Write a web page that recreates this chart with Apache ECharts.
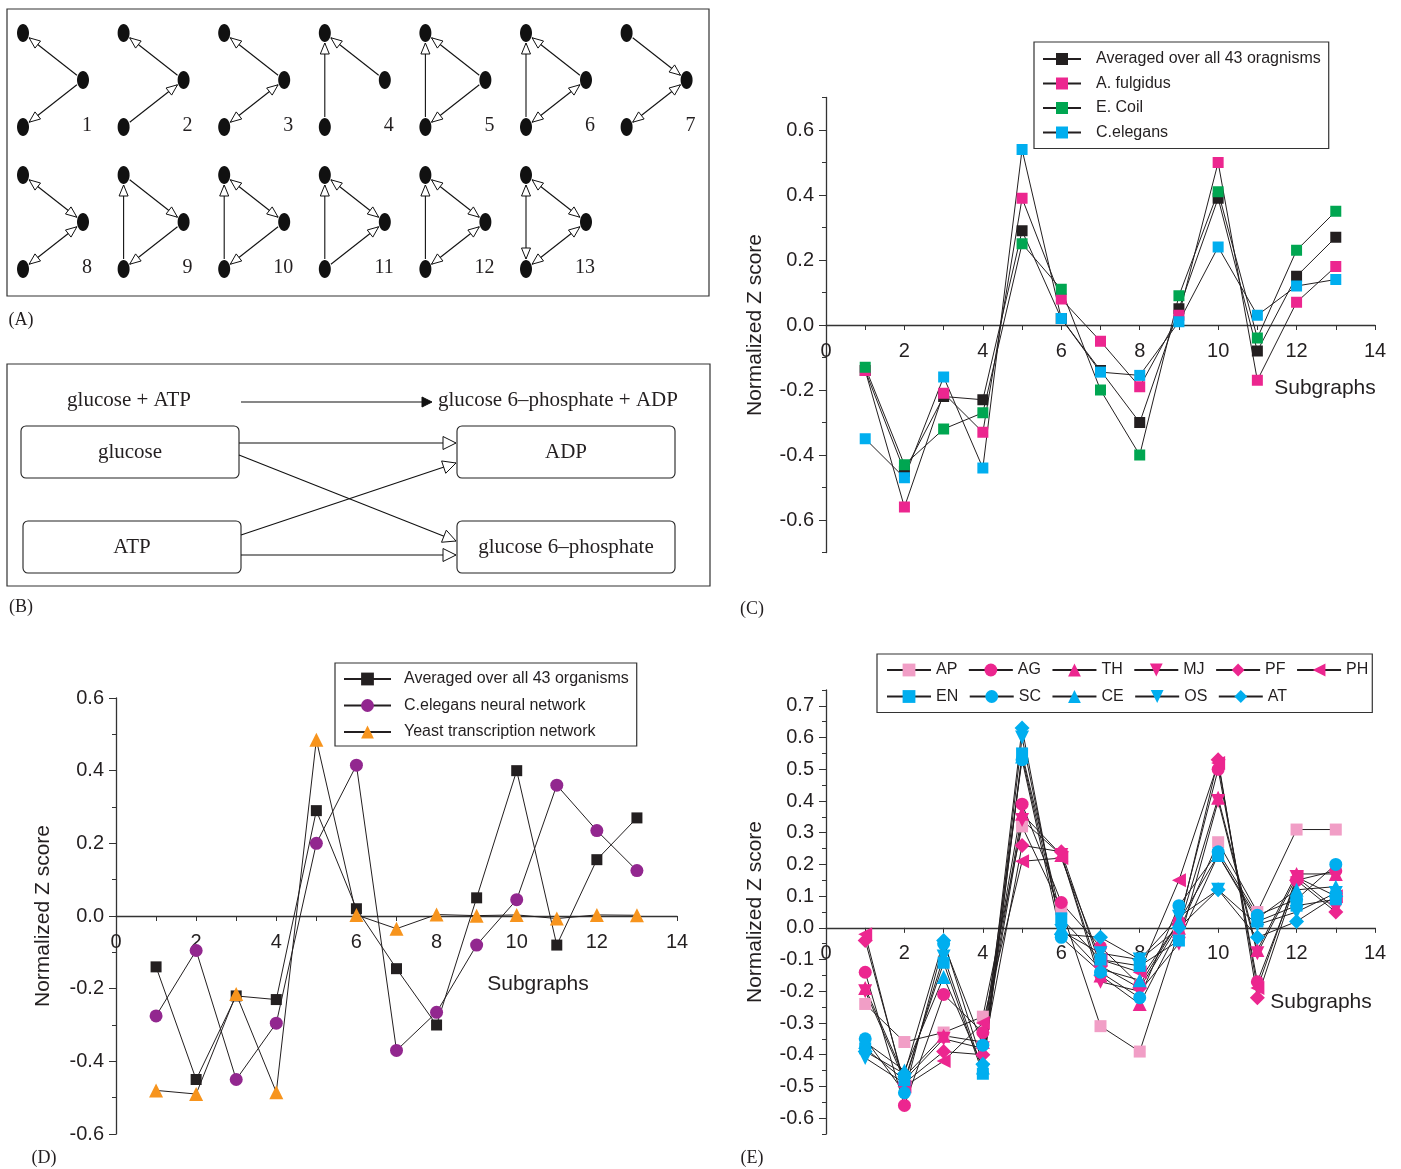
<!DOCTYPE html>
<html>
<head>
<meta charset="utf-8">
<script src="https://cdn.jsdelivr.net/npm/echarts@6/dist/echarts.min.js"></script>
<style>
  html, body { margin: 0; background: #fff; }
  #fig { width: 1401px; height: 1169px; }
</style>
</head>
<body>
<div id="fig"></div>
<script>
// subgraph ids on the x axis
const subgraphs = [1, 2, 3, 4, 5, 6, 7, 8, 9, 10, 11, 12, 13]
const xTickLabels = [0, 2, 4, 6, 8, 10, 12, 14]

// panel C
const cTicks = [-0.6, -0.4, -0.2, 0.0, 0.2, 0.4, 0.6]
const cAveraged = [-0.14, -0.45, -0.22, -0.23, 0.29, 0.02, -0.14, -0.30, 0.05, 0.39, -0.08, 0.15, 0.27]
const cFulgidus = [-0.14, -0.56, -0.21, -0.33, 0.39, 0.08, -0.05, -0.19, 0.03, 0.50, -0.17, 0.07, 0.18]
const cEColi = [-0.13, -0.43, -0.32, -0.27, 0.25, 0.11, -0.20, -0.40, 0.09, 0.41, -0.04, 0.23, 0.35]
const cElegans = [-0.35, -0.47, -0.16, -0.44, 0.54, 0.02, -0.145, -0.155, 0.01, 0.24, 0.03, 0.12, 0.14]

// panel D
const dTicks = [-0.6, -0.4, -0.2, 0.0, 0.2, 0.4, 0.6]
const dAveraged = [-0.14, -0.45, -0.22, -0.23, 0.29, 0.02, -0.145, -0.30, 0.05, 0.40, -0.08, 0.155, 0.27]
const dNeural = [-0.275, -0.095, -0.45, -0.295, 0.20, 0.415, -0.37, -0.265, -0.08, 0.045, 0.36, 0.235, 0.125]
const dYeast = [-0.48, -0.49, -0.215, -0.485, 0.485, 0.003, -0.035, 0.004, 0.001, 0.003, -0.007, 0.003, 0.002]

// panel E
const eTicks = [-0.6, -0.5, -0.4, -0.3, -0.2, -0.1, 0.0, 0.1, 0.2, 0.3, 0.4, 0.5, 0.6, 0.7]
const eAP = [-0.24, -0.36, -0.33, -0.28, 0.32, 0.06, -0.31, -0.39, -0.01, 0.27, 0.05, 0.31, 0.31]
const eAG = [-0.14, -0.56, -0.21, -0.33, 0.39, 0.08, -0.06, -0.18, 0.02, 0.50, -0.17, 0.15, 0.18]
const eTH = [-0.19, -0.47, -0.34, -0.36, 0.36, 0.23, -0.15, -0.24, 0.00, 0.41, -0.07, 0.17, 0.17]
const eMJ = [-0.20, -0.48, -0.35, -0.38, 0.34, 0.23, -0.17, -0.20, -0.05, 0.40, -0.08, 0.16, 0.06]
const ePF = [-0.04, -0.49, -0.39, -0.40, 0.26, 0.24, -0.12, -0.19, 0.01, 0.53, -0.22, 0.15, 0.05]
const ePH = [-0.02, -0.50, -0.42, -0.30, 0.21, 0.22, -0.10, -0.14, 0.15, 0.52, -0.19, 0.16, 0.10]
const eEN = [-0.38, -0.48, -0.11, -0.46, 0.55, 0.03, -0.10, -0.12, -0.04, 0.23, 0.02, 0.07, 0.09]
const eSC = [-0.35, -0.52, -0.05, -0.37, 0.53, -0.03, -0.14, -0.22, 0.07, 0.24, 0.04, 0.09, 0.20]
const eCE = [-0.36, -0.45, -0.155, -0.44, 0.54, 0.00, -0.13, -0.165, 0.02, 0.23, 0.03, 0.12, 0.13]
const eOS = [-0.41, -0.49, -0.09, -0.45, 0.60, -0.01, -0.08, -0.10, 0.035, 0.12, 0.01, 0.05, 0.11]
const eAT = [-0.39, -0.46, -0.04, -0.43, 0.63, -0.02, -0.03, -0.10, 0.00, 0.12, -0.03, 0.02, 0.10]

// panel A: the 13 three-node motifs (T top, M middle, B bottom)
const motifEdges = [
    ['M>T', 'M>B'],
    ['M>T', 'B>M'],
    ['M>T', 'M<>B'],
    ['M>T', 'B>T'],
    ['M>T', 'B>T', 'M>B'],
    ['M>T', 'B>T', 'M<>B'],
    ['T>M', 'M<>B'],
    ['T<>M', 'M<>B'],
    ['T>M', 'B>T', 'M>B'],
    ['T<>M', 'B>T', 'M>B'],
    ['T<>M', 'B>T', 'B>M'],
    ['T<>M', 'B>T', 'M<>B'],
    ['T<>M', 'T<>B', 'M<>B']
]

const INK = '#231f20'
const SANS = '"Liberation Sans", Arial, sans-serif'
const SERIF = '"Liberation Serif", "Times New Roman", serif'
const MAGENTA = '#ec268f'
const LIGHTPINK = '#f19ec6'
const CYAN = '#00aeef'

let chart = echarts.init(document.getElementById('fig'))

// ---------- drawn diagrams (panels A and B) ----------
const g = []

function seg(x1, y1, x2, y2, w) {
    g.push({ type: 'line', z2: 1, shape: { x1, y1, x2, y2 }, style: { stroke: '#111', lineWidth: w || 1 } })
}

function head(tx, ty, ux, uy, len, hw, filled) {
    const bx = tx - ux * len, by = ty - uy * len
    g.push({
        type: 'polygon', z2: 2,
        shape: { points: [[tx, ty], [bx - uy * hw, by + ux * hw], [bx + uy * hw, by - ux * hw]] },
        style: { fill: filled ? '#111' : '#fff', stroke: '#111', lineWidth: 1 }
    })
}

function text(str, x, y, opts) {
    g.push({
        type: 'text', z2: 5, x, y,
        style: Object.assign({
            text: str, fill: INK, font: '20px ' + SERIF,
            align: 'center', verticalAlign: 'middle'
        }, opts || {})
    })
}

const RX = 6, RY = 9

function ellipseReach(ux, uy) {
    return 1 / Math.sqrt((ux / RX) * (ux / RX) + (uy / RY) * (uy / RY))
}

function motifEdge(a, b, both) {
    const dx = b[0] - a[0], dy = b[1] - a[1]
    const L = Math.hypot(dx, dy)
    const ux = dx / L, uy = dy / L
    const r = ellipseReach(ux, uy) + 1
    const sx = a[0] + ux * r, sy = a[1] + uy * r
    const ex = b[0] - ux * r, ey = b[1] - uy * r
    seg(sx, sy, ex, ey, 1.1)
    head(ex, ey, ux, uy, 11, 4.5, false)
    if (both) head(sx, sy, -ux, -uy, 11, 4.5, false)
}

motifEdges.forEach((edges, i) => {
    const row = i < 7 ? 0 : 1
    const col = i < 7 ? i : i - 7
    const bx = 23 + col * 100.6
    const top = 33 + row * 142
    const nodes = { T: [bx, top], M: [bx + 60, top + 47], B: [bx, top + 94] }
    edges.forEach(e => {
        const both = e.indexOf('<>') >= 0
        const parts = e.split(both ? '<>' : '>')
        motifEdge(nodes[parts[0]], nodes[parts[1]], both)
    })
    Object.keys(nodes).forEach(k => {
        g.push({ type: 'ellipse', z2: 3, shape: { cx: nodes[k][0], cy: nodes[k][1], rx: RX, ry: RY }, style: { fill: '#111' } })
    })
    text(String(i + 1), bx + 69, top + 93, { align: 'right' })
})

g.push({ type: 'rect', z2: 0, shape: { x: 7, y: 9, width: 702, height: 287 }, style: { fill: 'none', stroke: '#333', lineWidth: 1.2 } })

// panel B
const BFONT = '21px ' + SERIF
g.push({ type: 'rect', z2: 0, shape: { x: 7, y: 364, width: 703, height: 222 }, style: { fill: 'none', stroke: '#333', lineWidth: 1.2 } })
text('glucose + ATP', 129, 400, { font: BFONT })
seg(241, 402, 422, 402, 1.2)
head(432, 402, 1, 0, 10, 5, true)
text('glucose 6\u2013phosphate + ADP', 438, 400, { align: 'left', font: BFONT })

const boxes = [
    ['glucose', 21, 426],
    ['ATP', 23, 521],
    ['ADP', 457, 426],
    ['glucose 6\u2013phosphate', 457, 521]
]
boxes.forEach(b => {
    g.push({ type: 'rect', z2: 1, shape: { x: b[1], y: b[2], width: 218, height: 52, r: 5 }, style: { fill: '#fff', stroke: '#222', lineWidth: 1.1 } })
    text(b[0], b[1] + 109, b[2] + 26, { font: BFONT })
})

function flow(x1, y1, x2, y2) {
    const L = Math.hypot(x2 - x1, y2 - y1)
    const ux = (x2 - x1) / L, uy = (y2 - y1) / L
    seg(x1, y1, x2, y2, 1.1)
    head(x2, y2, ux, uy, 13, 6.5, false)
}
flow(239, 443, 456, 443)
flow(239, 455, 456, 541)
flow(241, 535, 456, 463)
flow(241, 555, 456, 555)

// panel letters
text('(A)', 21, 320, { font: '18px ' + SERIF })
text('(B)', 21, 607, { font: '18px ' + SERIF })
text('(C)', 752, 609, { font: '18px ' + SERIF })
text('(D)', 44, 1158, { font: '18px ' + SERIF })
text('(E)', 752, 1158, { font: '18px ' + SERIF })

// x axis titles
text('Subgraphs', 1325, 388, { font: '21px ' + SANS })
text('Subgraphs', 538, 984, { font: '21px ' + SANS })
text('Subgraphs', 1321, 1002, { font: '21px ' + SANS })

// ---------- plot boxes ----------
// each panel: a data grid, plus an axis grid whose bottom edge is the y = 0 line
const panels = [
    { left: 826, top: 97.5, width: 549, min: -0.7, max: 0.7, step: 0.1, ticks: cTicks, height: 455, gap: 60 },
    { left: 116, top: 698, width: 561, min: -0.6, max: 0.6, step: 0.1, ticks: dTicks, height: 436, gap: 62 },
    { left: 826, top: 690, width: 549, min: -0.65, max: 0.75, step: 0.05, ticks: eTicks, height: 444, gap: 60 }
]

const grids = []
const xAxes = []
const yAxes = []

panels.forEach((p, i) => {
    grids.push({ left: p.left, top: p.top, width: p.width, height: p.height })
    xAxes.push({ type: 'value', gridIndex: i, min: 0, max: 14, show: false })
})

panels.forEach((p, i) => {
    const isMajor = v => p.ticks.some(t => Math.abs(t - v) < 1e-6)
    yAxes.push({
        type: 'value', gridIndex: i, position: 'left', min: p.min, max: p.max, interval: p.step,
        name: 'Normalized Z score', nameLocation: 'middle', nameGap: p.gap,
        nameTextStyle: { fontSize: 21, color: INK, fontFamily: SANS },
        axisLine: { show: true, onZero: false, lineStyle: { color: '#333', width: 1.3 } },
        axisTick: { show: true, length: 4, lineStyle: { color: '#333' } },
        axisLabel: {
            color: INK, fontSize: 20, fontFamily: SANS, margin: 12,
            formatter: v => isMajor(v) ? (Math.abs(v) < 1e-9 ? '0.0' : v.toFixed(1)) : ''
        },
        splitLine: { show: false }
    }, {
        type: 'value', gridIndex: i, position: 'left', min: p.min, max: p.max,
        axisLine: { show: false, onZero: false },
        axisLabel: { show: false },
        axisTick: { show: true, length: 7, customValues: p.ticks, lineStyle: { color: '#333' } },
        splitLine: { show: false }
    })
})

// axis grids (index 3..5): visible subgraph axis sitting on y = 0
panels.forEach((p, i) => {
    const zeroH = p.height * p.max / (p.max - p.min)
    grids.push({ left: p.left, top: p.top, width: p.width, height: zeroH })
    xAxes.push({
        type: 'value', gridIndex: 3 + i, min: 0, max: 14, interval: 1,
        axisLine: { onZero: false, lineStyle: { color: '#333', width: 1.3 } },
        axisTick: { length: 5, lineStyle: { color: '#333' } },
        axisLabel: {
            color: INK, fontSize: 20, fontFamily: SANS, margin: 16,
            formatter: v => xTickLabels.indexOf(v) >= 0 ? String(v) : ''
        },
        splitLine: { show: false }
    })
    yAxes.push({ type: 'value', gridIndex: 3 + i, min: 0, max: 1, show: false })
})

function lineSeries(name, vals, xi, yi, color, symbol, size, rot) {
    return {
        type: 'line', name, xAxisIndex: xi, yAxisIndex: yi,
        data: subgraphs.map((s, i) => [s, vals[i]]),
        symbol, symbolSize: size, symbolRotate: rot || 0,
        showAllSymbol: true,
        lineStyle: { color: INK, width: 1 },
        itemStyle: { color },
        emphasis: { disabled: true }
    }
}

const legendText = { color: INK, fontSize: 16, fontFamily: SANS }

chart.setOption({
    animation: false,
    backgroundColor: '#fff',
    textStyle: { fontFamily: SANS },
    grid: grids,
    xAxis: xAxes,
    yAxis: yAxes,
    legend: [{
        left: 1034, top: 42, orient: 'vertical',
        data: ['Averaged over all 43 oragnisms', 'A. fulgidus', 'E. Coil', 'C.elegans'],
        itemWidth: 38, itemHeight: 15, itemGap: 8.5,
        padding: [9, 8, 8, 8],
        borderColor: '#333', borderWidth: 1.2,
        selectedMode: false,
        textStyle: Object.assign({ padding: [0, 0, 0, 10] }, legendText)
    }, {
        left: 335, top: 663, orient: 'vertical',
        data: ['Averaged over all 43 organisms', 'C.elegans neural network', 'Yeast transcription network'],
        itemWidth: 47, itemHeight: 16, itemGap: 10.5,
        padding: [8, 8, 6, 8],
        borderColor: '#333', borderWidth: 1.2,
        selectedMode: false,
        textStyle: Object.assign({ padding: [0, 0, 0, 8] }, legendText)
    }, {
        left: 877, top: 654, orient: 'horizontal', width: 505,
        data: ['AP', 'AG', 'TH', 'MJ', 'PF', 'PH', 'EN', 'SC', 'CE', 'OS', 'AT'],
        itemWidth: 44, itemHeight: 16, itemGap: 10.5,
        padding: [8, 4, 8, 9],
        borderColor: '#333', borderWidth: 1.2,
        selectedMode: false,
        textStyle: Object.assign({ width: 22 }, legendText)
    }],
    series: [
        lineSeries('Averaged over all 43 oragnisms', cAveraged, 0, 0, INK, 'rect', 11),
        lineSeries('A. fulgidus', cFulgidus, 0, 0, MAGENTA, 'rect', 11),
        lineSeries('E. Coil', cEColi, 0, 0, '#00a651', 'rect', 11),
        lineSeries('C.elegans', cElegans, 0, 0, CYAN, 'rect', 11),

        lineSeries('Averaged over all 43 organisms', dAveraged, 1, 2, INK, 'rect', 11),
        lineSeries('C.elegans neural network', dNeural, 1, 2, '#92278f', 'circle', 13),
        lineSeries('Yeast transcription network', dYeast, 1, 2, '#f7941d', 'triangle', 14),

        lineSeries('AP', eAP, 2, 4, LIGHTPINK, 'rect', 12),
        lineSeries('AG', eAG, 2, 4, MAGENTA, 'circle', 13),
        lineSeries('TH', eTH, 2, 4, MAGENTA, 'triangle', 14),
        lineSeries('MJ', eMJ, 2, 4, MAGENTA, 'triangle', 14, 180),
        lineSeries('PF', ePF, 2, 4, MAGENTA, 'diamond', 15),
        lineSeries('PH', ePH, 2, 4, MAGENTA, 'triangle', 14, 90),
        lineSeries('EN', eEN, 2, 4, CYAN, 'rect', 12),
        lineSeries('SC', eSC, 2, 4, CYAN, 'circle', 13),
        lineSeries('CE', eCE, 2, 4, CYAN, 'triangle', 14),
        lineSeries('OS', eOS, 2, 4, CYAN, 'triangle', 14, 180),
        lineSeries('AT', eAT, 2, 4, CYAN, 'diamond', 15)
    ],
    graphic: { elements: g }
})
</script>
</body>
</html>
